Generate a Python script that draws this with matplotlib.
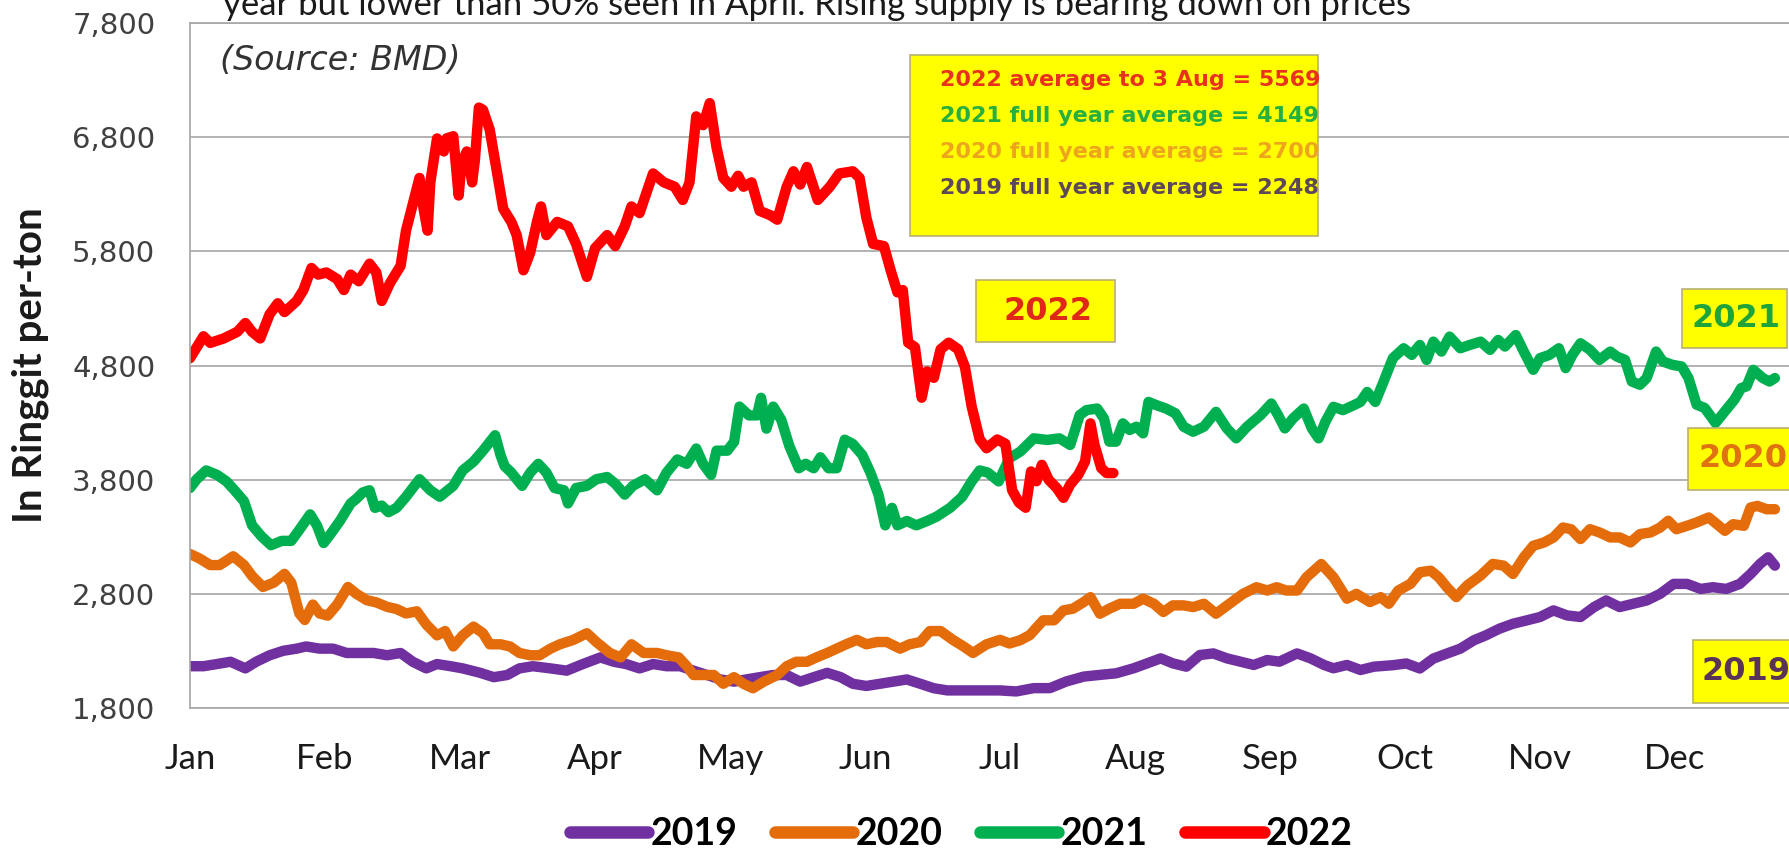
import matplotlib.pyplot as plt
from matplotlib.patches import Rectangle

# x positions are in months from the start of January (0 = Jan, 1 = Feb ...)
months = ['Jan', 'Feb', 'Mar', 'Apr', 'May', 'Jun', 'Jul', 'Aug', 'Sep', 'Oct', 'Nov', 'Dec']
y_ticks = [1800, 2800, 3800, 4800, 5800, 6800, 7800]

x_2019 = [0.00, 0.10, 0.20, 0.30, 0.41, 0.49, 0.59, 0.69, 0.79, 0.86, 0.96, 1.06, 1.16, 1.26,
          1.36, 1.46, 1.56, 1.65, 1.75, 1.83, 1.93, 2.02, 2.15, 2.25, 2.35, 2.44, 2.54, 2.67,
          2.79, 2.91, 3.04, 3.14, 3.23, 3.33, 3.43, 3.53, 3.63, 3.73, 3.83, 3.93, 4.03, 4.12,
          4.22, 4.32, 4.42, 4.52, 4.62, 4.72, 4.82, 4.91, 5.01, 5.11, 5.21, 5.31, 5.41, 5.51,
          5.61, 5.70, 5.80, 5.90, 6.00, 6.12, 6.25, 6.37, 6.49, 6.62, 6.74, 6.86, 6.99, 7.09,
          7.19, 7.28, 7.38, 7.48, 7.58, 7.68, 7.78, 7.88, 7.98, 8.07, 8.20, 8.30, 8.40, 8.47,
          8.57, 8.67, 8.77, 8.91, 9.01, 9.11, 9.21, 9.31, 9.41, 9.51, 9.60, 9.70, 9.80, 9.90,
          10.00, 10.10, 10.20, 10.30, 10.40, 10.49, 10.59, 10.69, 10.79, 10.89, 10.99, 11.09,
          11.19, 11.28, 11.38, 11.48, 11.56, 11.63, 11.69, 11.74]
p_2019 = [2166, 2166, 2185, 2205, 2147, 2205, 2262, 2301, 2320, 2339, 2320, 2320, 2282, 2282,
          2282, 2262, 2282, 2205, 2147, 2185, 2166, 2147, 2108, 2070, 2089, 2147, 2166, 2147,
          2127, 2185, 2243, 2205, 2185, 2147, 2185, 2166, 2166, 2127, 2089, 2050, 2031, 2050,
          2070, 2089, 2089, 2031, 2070, 2108, 2070, 2012, 1993, 2012, 2031, 2050, 2012, 1973,
          1954, 1954, 1954, 1954, 1954, 1945, 1974, 1974, 2032, 2075, 2090, 2104, 2148, 2191,
          2235, 2191, 2162, 2264, 2278, 2235, 2206, 2177, 2220, 2206, 2278, 2235, 2177, 2148,
          2177, 2133, 2162, 2175, 2190, 2146, 2233, 2277, 2320, 2393, 2437, 2495, 2538, 2567,
          2597, 2655, 2611, 2597, 2684, 2742, 2684, 2713, 2742, 2800, 2887, 2887,
          2843, 2858, 2843, 2887, 2974, 3062, 3120, 3047]

x_2020 = [0.00, 0.07, 0.15, 0.22, 0.32, 0.40, 0.46, 0.54, 0.62, 0.70, 0.75, 0.81, 0.85, 0.91,
          0.96, 1.02, 1.09, 1.17, 1.23, 1.31, 1.38, 1.46, 1.53, 1.60, 1.68, 1.75, 1.83, 1.89,
          1.95, 2.02, 2.10, 2.17, 2.22, 2.30, 2.37, 2.44, 2.52, 2.59, 2.67, 2.74, 2.84, 2.94,
          3.01, 3.11, 3.19, 3.27, 3.36, 3.46, 3.53, 3.62, 3.68, 3.73, 3.80, 3.88, 3.95, 4.03,
          4.10, 4.17, 4.25, 4.35, 4.42, 4.49, 4.57, 4.64, 4.72, 4.79, 4.86, 4.94, 5.01, 5.09,
          5.16, 5.26, 5.33, 5.41, 5.48, 5.56, 5.65, 5.73, 5.80, 5.90, 6.00, 6.07, 6.15, 6.22,
          6.32, 6.40, 6.47, 6.54, 6.62, 6.67, 6.74, 6.81, 6.89, 6.99, 7.06, 7.14, 7.21, 7.28,
          7.36, 7.43, 7.51, 7.60, 7.70, 7.80, 7.90, 7.98, 8.05, 8.12, 8.20, 8.27, 8.38, 8.47,
          8.57, 8.64, 8.74, 8.82, 8.88, 8.95, 9.04, 9.11, 9.19, 9.25, 9.31, 9.38, 9.46, 9.56,
          9.65, 9.73, 9.80, 9.88, 9.95, 10.03, 10.10, 10.17, 10.23, 10.30, 10.37, 10.44, 10.52,
          10.59, 10.67, 10.74, 10.82, 10.89, 10.95, 11.01, 11.09, 11.16, 11.25, 11.31, 11.37,
          11.43, 11.51, 11.56, 11.61, 11.68, 11.74]
p_2020 = [3149, 3110, 3052, 3052, 3129, 3052, 2956, 2860, 2898, 2975, 2898, 2628, 2571, 2706,
          2628, 2609, 2706, 2860, 2802, 2744, 2725, 2686, 2667, 2628, 2647, 2532, 2436, 2474,
          2339, 2436, 2513, 2455, 2358, 2358, 2339, 2282, 2262, 2262, 2320, 2358, 2397, 2455,
          2378, 2282, 2243, 2358, 2282, 2282, 2262, 2243, 2166, 2089, 2089, 2089, 2012, 2070,
          2012, 1973, 2031, 2089, 2166, 2205, 2205, 2243, 2282, 2320, 2358, 2397, 2358, 2378,
          2378, 2320, 2358, 2378, 2474, 2474, 2397, 2339, 2282, 2358, 2397, 2365, 2394, 2438,
          2568, 2568, 2655, 2670, 2728, 2771, 2626, 2670, 2713, 2713, 2757, 2713, 2641, 2699,
          2699, 2684, 2713, 2626, 2713, 2800, 2858, 2829, 2858, 2829, 2829, 2945, 3061, 2945,
          2757, 2800, 2728, 2771, 2713, 2829, 2887, 2989, 3003, 2945, 2858, 2771, 2873, 2960,
          3062, 3047, 2974, 3120, 3221, 3250, 3294, 3381, 3366, 3280, 3366, 3338, 3294,
          3294, 3250, 3323, 3338, 3381, 3440, 3366, 3396, 3425, 3469, 3410, 3352,
          3410, 3396, 3556, 3570, 3541, 3541]

x_2021 = [0.00, 0.05, 0.12, 0.20, 0.27, 0.33, 0.40, 0.46, 0.53, 0.60, 0.68, 0.75, 0.81, 0.89,
          0.94, 0.99, 1.04, 1.11, 1.19, 1.23, 1.28, 1.33, 1.37, 1.42, 1.47, 1.53, 1.60, 1.70,
          1.78, 1.85, 1.95, 2.02, 2.10, 2.17, 2.26, 2.30, 2.33, 2.38, 2.46, 2.52, 2.58, 2.64,
          2.70, 2.77, 2.80, 2.86, 2.94, 3.01, 3.09, 3.15, 3.22, 3.28, 3.37, 3.46, 3.53, 3.61,
          3.68, 3.75, 3.80, 3.86, 3.90, 3.98, 4.03, 4.07, 4.14, 4.20, 4.23, 4.27, 4.32, 4.38,
          4.44, 4.51, 4.56, 4.62, 4.67, 4.73, 4.79, 4.85, 4.91, 4.98, 5.04, 5.10, 5.15, 5.20,
          5.24, 5.31, 5.38, 5.46, 5.53, 5.63, 5.72, 5.79, 5.85, 5.91, 5.99, 6.07, 6.15, 6.25,
          6.35, 6.44, 6.52, 6.59, 6.64, 6.72, 6.77, 6.81, 6.86, 6.91, 6.96, 7.01, 7.06, 7.10,
          7.16, 7.23, 7.30, 7.36, 7.43, 7.51, 7.60, 7.68, 7.75, 7.83, 7.93, 8.01, 8.06, 8.11,
          8.17, 8.25, 8.31, 8.36, 8.41, 8.47, 8.54, 8.62, 8.67, 8.72, 8.78, 8.84, 8.91, 8.99,
          9.05, 9.11, 9.16, 9.21, 9.27, 9.33, 9.41, 9.48, 9.56, 9.63, 9.69, 9.74, 9.82, 9.88,
          9.95, 10.00, 10.07, 10.14, 10.19, 10.24, 10.30, 10.37, 10.44, 10.52, 10.57, 10.63,
          10.68, 10.74, 10.79, 10.86, 10.91, 10.98, 11.05, 11.10, 11.16, 11.22, 11.30, 11.37,
          11.44, 11.49, 11.53, 11.58, 11.65, 11.70, 11.74]
p_2021 = [3727, 3804, 3881, 3842, 3785, 3707, 3611, 3400, 3303, 3226, 3264, 3264, 3361, 3496,
          3400, 3245, 3322, 3438, 3592, 3630, 3688, 3707, 3553, 3573, 3515, 3553, 3650, 3804,
          3707, 3650, 3746, 3881, 3958, 4054, 4189, 4016, 3919, 3862, 3746, 3862, 3939, 3862,
          3727, 3707, 3592, 3727, 3746, 3804, 3823, 3765, 3669, 3746, 3804, 3707, 3862, 3977,
          3939, 4073, 3939, 3842, 4054, 4054, 4131, 4440, 4363, 4363, 4517, 4247, 4440, 4324,
          4093, 3900, 3939, 3900, 3996, 3900, 3900, 4150, 4112, 4016, 3862, 3669, 3400, 3553,
          3400, 3438, 3400, 3438, 3476, 3553, 3650, 3785, 3881, 3862, 3785, 3988, 4046, 4162,
          4148, 4162, 4104, 4365, 4409, 4423, 4336, 4133, 4133, 4293, 4235, 4264, 4206, 4481,
          4452, 4423, 4380, 4264, 4220, 4264, 4394, 4249, 4162, 4264, 4365, 4467, 4365, 4249,
          4336, 4423, 4249, 4162, 4307, 4438, 4409, 4452, 4481, 4568, 4481, 4655, 4864, 4951,
          4893, 4980, 4849, 5009, 4922, 5053, 4951, 4980, 5009, 4937, 5024, 4966, 5067, 4922,
          4762, 4864, 4893, 4951, 4777, 4893, 4995, 4937, 4849, 4922, 4878, 4849,
          4660, 4631, 4690, 4922, 4835, 4806, 4791, 4690, 4457, 4428, 4297, 4399,
          4501, 4602, 4617, 4762, 4690, 4660, 4690]

x_2022 = [0.00, 0.10, 0.15, 0.25, 0.35, 0.41, 0.46, 0.52, 0.59, 0.65, 0.70, 0.79, 0.84, 0.90,
          0.95, 1.01, 1.09, 1.14, 1.19, 1.25, 1.33, 1.38, 1.42, 1.48, 1.56, 1.60, 1.65, 1.70,
          1.73, 1.76, 1.78, 1.83, 1.88, 1.90, 1.95, 1.99, 2.01, 2.05, 2.09, 2.11, 2.14, 2.17,
          2.22, 2.27, 2.32, 2.38, 2.42, 2.47, 2.52, 2.57, 2.60, 2.64, 2.72, 2.80, 2.86, 2.94,
          3.00, 3.09, 3.15, 3.22, 3.27, 3.33, 3.43, 3.51, 3.59, 3.65, 3.70, 3.75, 3.80, 3.85,
          3.90, 3.95, 4.01, 4.06, 4.10, 4.16, 4.22, 4.30, 4.35, 4.42, 4.47, 4.52, 4.57, 4.65,
          4.74, 4.81, 4.91, 4.96, 5.01, 5.06, 5.14, 5.19, 5.24, 5.28, 5.32, 5.37, 5.42, 5.46,
          5.51, 5.56, 5.62, 5.69, 5.74, 5.79, 5.85, 5.90, 5.98, 6.04, 6.09, 6.14, 6.19, 6.23,
          6.27, 6.31, 6.36, 6.42, 6.47, 6.52, 6.58, 6.63, 6.67, 6.70, 6.75, 6.79, 6.84]
p_2022 = [4864, 5056, 4998, 5037, 5095, 5172, 5095, 5037, 5249, 5345, 5268, 5365, 5461, 5654,
          5596, 5615, 5557, 5461, 5596, 5538, 5692, 5615, 5365, 5519, 5673, 5981, 6212, 6443,
          6173, 5981, 6404, 6789, 6675, 6789, 6808, 6289, 6558, 6675, 6404, 6596, 7059, 7040,
          6866, 6520, 6173, 6058, 5942, 5634, 5788, 6058, 6193, 5942, 6058, 6019, 5865, 5576,
          5827, 5942, 5846, 6019, 6193, 6135, 6482, 6404, 6366, 6250, 6404, 6982, 6905, 7098,
          6712, 6443, 6366, 6462, 6366, 6404, 6154, 6116, 6077, 6366, 6501, 6385, 6539, 6250,
          6366, 6482, 6501, 6443, 6096, 5865, 5846, 5634, 5441, 5461, 5000, 4961, 4518, 4749,
          4692, 4942, 5000, 4942, 4788, 4441, 4152, 4075, 4152, 4114, 3707, 3600, 3554, 3872,
          3786, 3930, 3800, 3727, 3641, 3757, 3843, 3959, 4293, 4104, 3901, 3858, 3858]

W, H = 1790, 849
fig = plt.figure(figsize=(W / 100, H / 100), dpi=100)
ax = fig.add_axes([190 / W, 141 / H, 1600 / W, 685 / H])

lw = 7.5
ax.plot(x_2019, p_2019, color='#7030a0', lw=lw, label='2019', solid_joinstyle='round', solid_capstyle='round')
ax.plot(x_2020, p_2020, color='#e46c0a', lw=lw, label='2020', solid_joinstyle='round', solid_capstyle='round')
ax.plot(x_2021, p_2021, color='#00b050', lw=lw, label='2021', solid_joinstyle='round', solid_capstyle='round')
ax.plot(x_2022, p_2022, color='#ff0000', lw=lw, label='2022', solid_joinstyle='round', solid_capstyle='round')

narrow = ['Liberation Sans Narrow', 'Lato', 'DejaVu Sans']
ax.set_xlim(0, 1600 / 135)
ax.set_ylim(1800, 7800)
ax.set_xticks(range(12))
ax.set_xticklabels(months, family=narrow, fontsize=25, color='#1a1a1a')
ax.set_yticks(y_ticks)
ax.set_yticklabels(['{:,}'.format(v) for v in y_ticks], fontsize=21, color='#404040')
ax.tick_params(axis='x', length=0, pad=25)
ax.tick_params(axis='y', length=0, pad=25)
ax.grid(axis='y', color='#a6a6a6', lw=1.2)
ax.set_axisbelow(True)
for s in ['left', 'top', 'bottom']:
    ax.spines[s].set_color('#a6a6a6')
    ax.spines[s].set_linewidth(1.2)
ax.spines['right'].set_visible(False)

fig.text(30 / W, 1 - 365 / H, 'In Ringgit per-ton', rotation=90, ha='center', va='center',
         family=narrow, fontweight='bold', fontsize=29, color='#1a1a1a')

# cut-off title line at the very top, as in the source image
fig.text(223 / W, 1 - 15 / H, 'year but lower than 50% seen in April. Rising supply is bearing down on prices',
         ha='left', va='baseline', family=['Lato', 'DejaVu Sans'], fontsize=25, color='#1a1a1a')
fig.text(220 / W, 1 - 60 / H, '(Source: BMD)', ha='left', va='center', style='italic',
         fontsize=24, color='#333333')


def ybox(x0, y0, x1, y1):
    r = Rectangle((x0 / W, 1 - y1 / H), (x1 - x0) / W, (y1 - y0) / H, transform=fig.transFigure,
                  facecolor='#ffff00', edgecolor='#b8b070', lw=1.2, zorder=3)
    fig.add_artist(r)


ybox(910, 55, 1318, 236)
notes = ['2022 average to 3 Aug = 5569', '2021 full year average = 4149',
         '2020 full year average = 2700', '2019 full year average = 2248']
note_colors = ['#e8321c', '#26b040', '#eea51e', '#5c4858']
for i, (t, c) in enumerate(zip(notes, note_colors)):
    fig.text(940 / W, 1 - (80 + 36 * i) / H, t, ha='left', va='center', fontweight='bold',
             fontsize=16, color=c, zorder=4)

tags = [('2022', 976, 280, 1115, 342, '#e02818'),
        ('2021', 1682, 289, 1787, 348, '#1fa43c'),
        ('2020', 1688, 428, 1795, 490, '#e07212'),
        ('2019', 1693, 640, 1795, 703, '#5a3358')]
for t, x0, y0, x1, y1, c in tags:
    ybox(x0, y0, x1, y1)
    fig.text((x0 + x1) / 2 / W + 2 / W, 1 - (y0 + y1) / 2 / H, t, ha='center', va='center',
             fontweight='bold', fontsize=23, color=c, zorder=4)

leg = fig.legend(loc='center', bbox_to_anchor=(961 / W, 1 - 834 / H), ncol=4, frameon=False,
                 handlelength=2.1, handletextpad=0.05, columnspacing=1.0,
                 prop={'family': ['Lato', 'DejaVu Sans'], 'weight': 'bold', 'size': 27})
for ln in leg.get_lines():
    ln.set_linewidth(9)
    ln.set_solid_capstyle('round')

fig.savefig('out.png', dpi=100)
